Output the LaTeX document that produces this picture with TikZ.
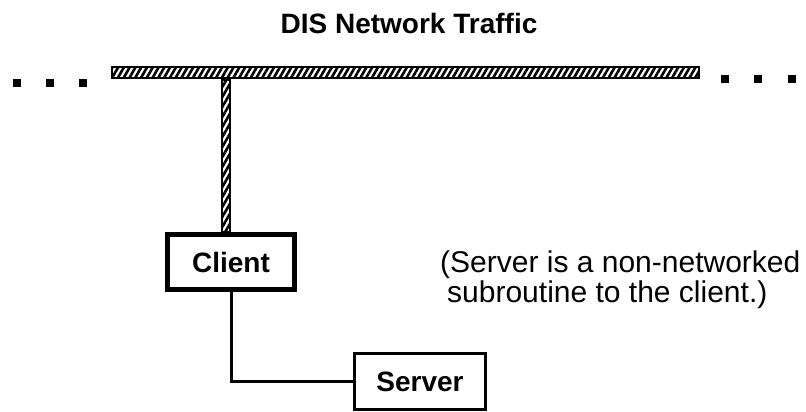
\documentclass[tikz,border=0pt]{standalone}
\usepackage{fontspec}
\setmainfont{Liberation Sans}
\usetikzlibrary{patterns.meta,positioning}
\tikzstyle{box} = [draw, line width=2.5pt, font=\fontsize{28}{32}\selectfont\bfseries, inner sep=0pt]
\tikzstyle{thickbox} = [box, line width=4.5pt]
\tikzstyle{cable} = [draw, line width=2pt, pattern={Lines[angle=60,distance=5pt,line width=2.6pt]}]
\tikzstyle{blip} = [fill, minimum size=8pt, inner sep=0pt]

\begin{document}
\begin{tikzpicture}[x=1pt,y=-1pt]
		\useasboundingbox (0,0) rectangle (806,412);
		\node [anchor=base, font=\fontsize{28}{32}\selectfont\bfseries] (title) at (409,34) {DIS Network Traffic};
		\node [cable, minimum width=587pt, minimum height=11pt, inner sep=0pt] (bus) at (405.5,73) {};
		\foreach \x in {17,50,83} \node [blip] (l\x) at (\x,83) {};
		\foreach \x in {725,758,792} \node [blip] (r\x) at (\x,79) {};
		\node [thickbox, minimum width=127pt, minimum height=55pt] (client) at (231,262) {Client};
		\node [box, minimum width=131pt, minimum height=56pt] (server) at (420,381.5) {Server};
		\node [anchor=north west, align=left, inner sep=0pt, font=\fontsize{30}{30}\selectfont] (note) at (440,251) {(Server is a non-networked\\\hspace*{7pt}subroutine to the client.)};

		% drop line from the bus to the client
		\draw [cable] ([xshift=-9.5pt]bus.south -| client.north) rectangle ([xshift=-1.5pt]client.north);
		\draw [line width=3pt] (client.south) |- (server.west);

\end{tikzpicture}
\end{document}
